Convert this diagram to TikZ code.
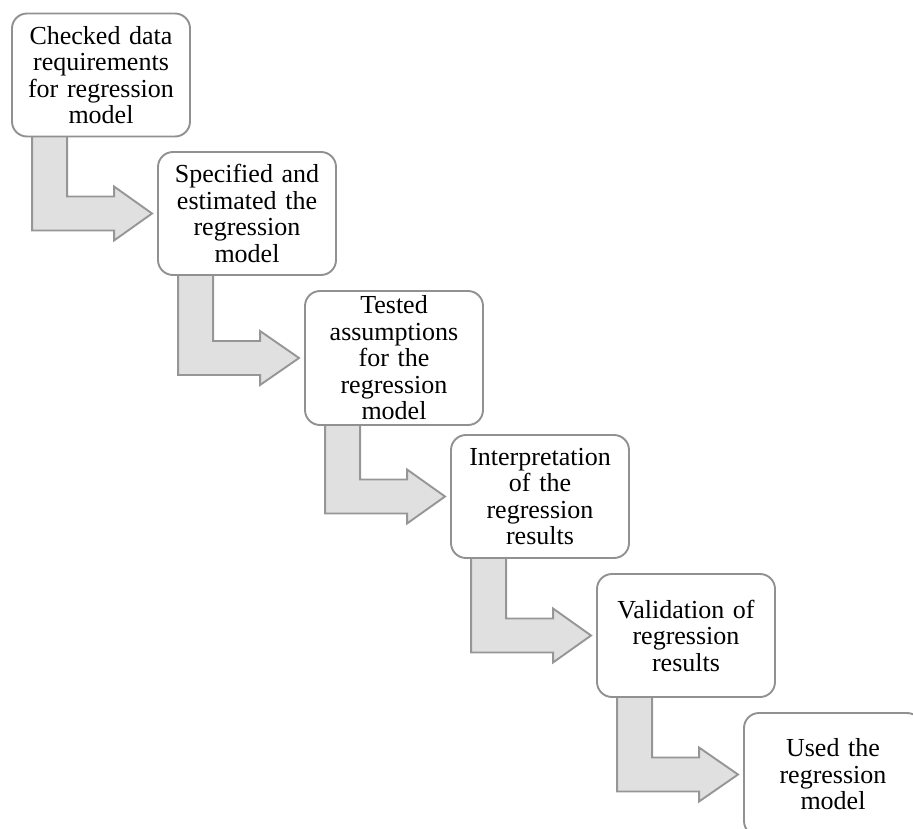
\documentclass[tikz,border=0pt]{standalone}
\usepackage{fontspec}
\setmainfont{Liberation Serif}
\usetikzlibrary{calc}

\pgfdeclarelayer{background}
\pgfsetlayers{background,main}

\definecolor{boxline}{RGB}{145,145,145}
\definecolor{arrowfill}{RGB}{224,224,224}
\definecolor{arrowline}{RGB}{150,150,150}

\tikzset{
  stepbox/.style={draw=boxline, line width=1.9pt, fill=white, rounded corners=15pt,
    minimum width=178pt, minimum height=123pt, inner sep=0pt,
    text width=170pt, align=center,
    font=\fontsize{26}{26.5}\selectfont},
  bendarrow/.style={draw=arrowline, fill=arrowfill, line width=1.9pt, line join=miter}
}

% bent block arrow from the bottom of box #1 to the left side of box #2
\newcommand{\stepdown}[2]{%
  \path[bendarrow] let \p1=(#1.south west), \p2=(#2.west) in
    (\x1+21pt,\y1+2pt) -- (\x1+56pt,\y1+2pt) -- (\x1+56pt,\y2+17pt)
    -- (\x1+103pt,\y2+17pt) -- (\x1+103pt,\y2+27pt) -- (\x2-5pt,\y2)
    -- (\x1+103pt,\y2-27pt) -- (\x1+103pt,\y2-17pt) -- (\x1+21pt,\y2-17pt) -- cycle;}

\begin{document}
\begin{tikzpicture}[x=1pt, y=-1pt]
  \useasboundingbox (0,0) rectangle (913,829);
  \clip (0,0) rectangle (913,829);

  % process steps, placed by their centres
  \node[stepbox] (s1) at (101,75)    {Checked data\\requirements\\for regression\\model};
  \node[stepbox] (s2) at (247,213.5) {Specified and\\estimated the\\regression\\model};
  \node[stepbox, minimum height=134pt] (s3) at (394,358) {Tested\\assumptions\\for the\\regression\\model};
  \node[stepbox] (s4) at (540,496.5) {Interpretation\\of the\\regression\\results};
  \node[stepbox] (s5) at (686,635.5) {Validation of\\regression\\results};
  \node[stepbox] (s6) at (833,774.5) {Used the\\regression\\model};

  % bent arrows, behind the boxes
  \begin{pgfonlayer}{background}
    \stepdown{s1}{s2}
    \stepdown{s2}{s3}
    \stepdown{s3}{s4}
    \stepdown{s4}{s5}
    \stepdown{s5}{s6}
  \end{pgfonlayer}
\end{tikzpicture}
\end{document}
